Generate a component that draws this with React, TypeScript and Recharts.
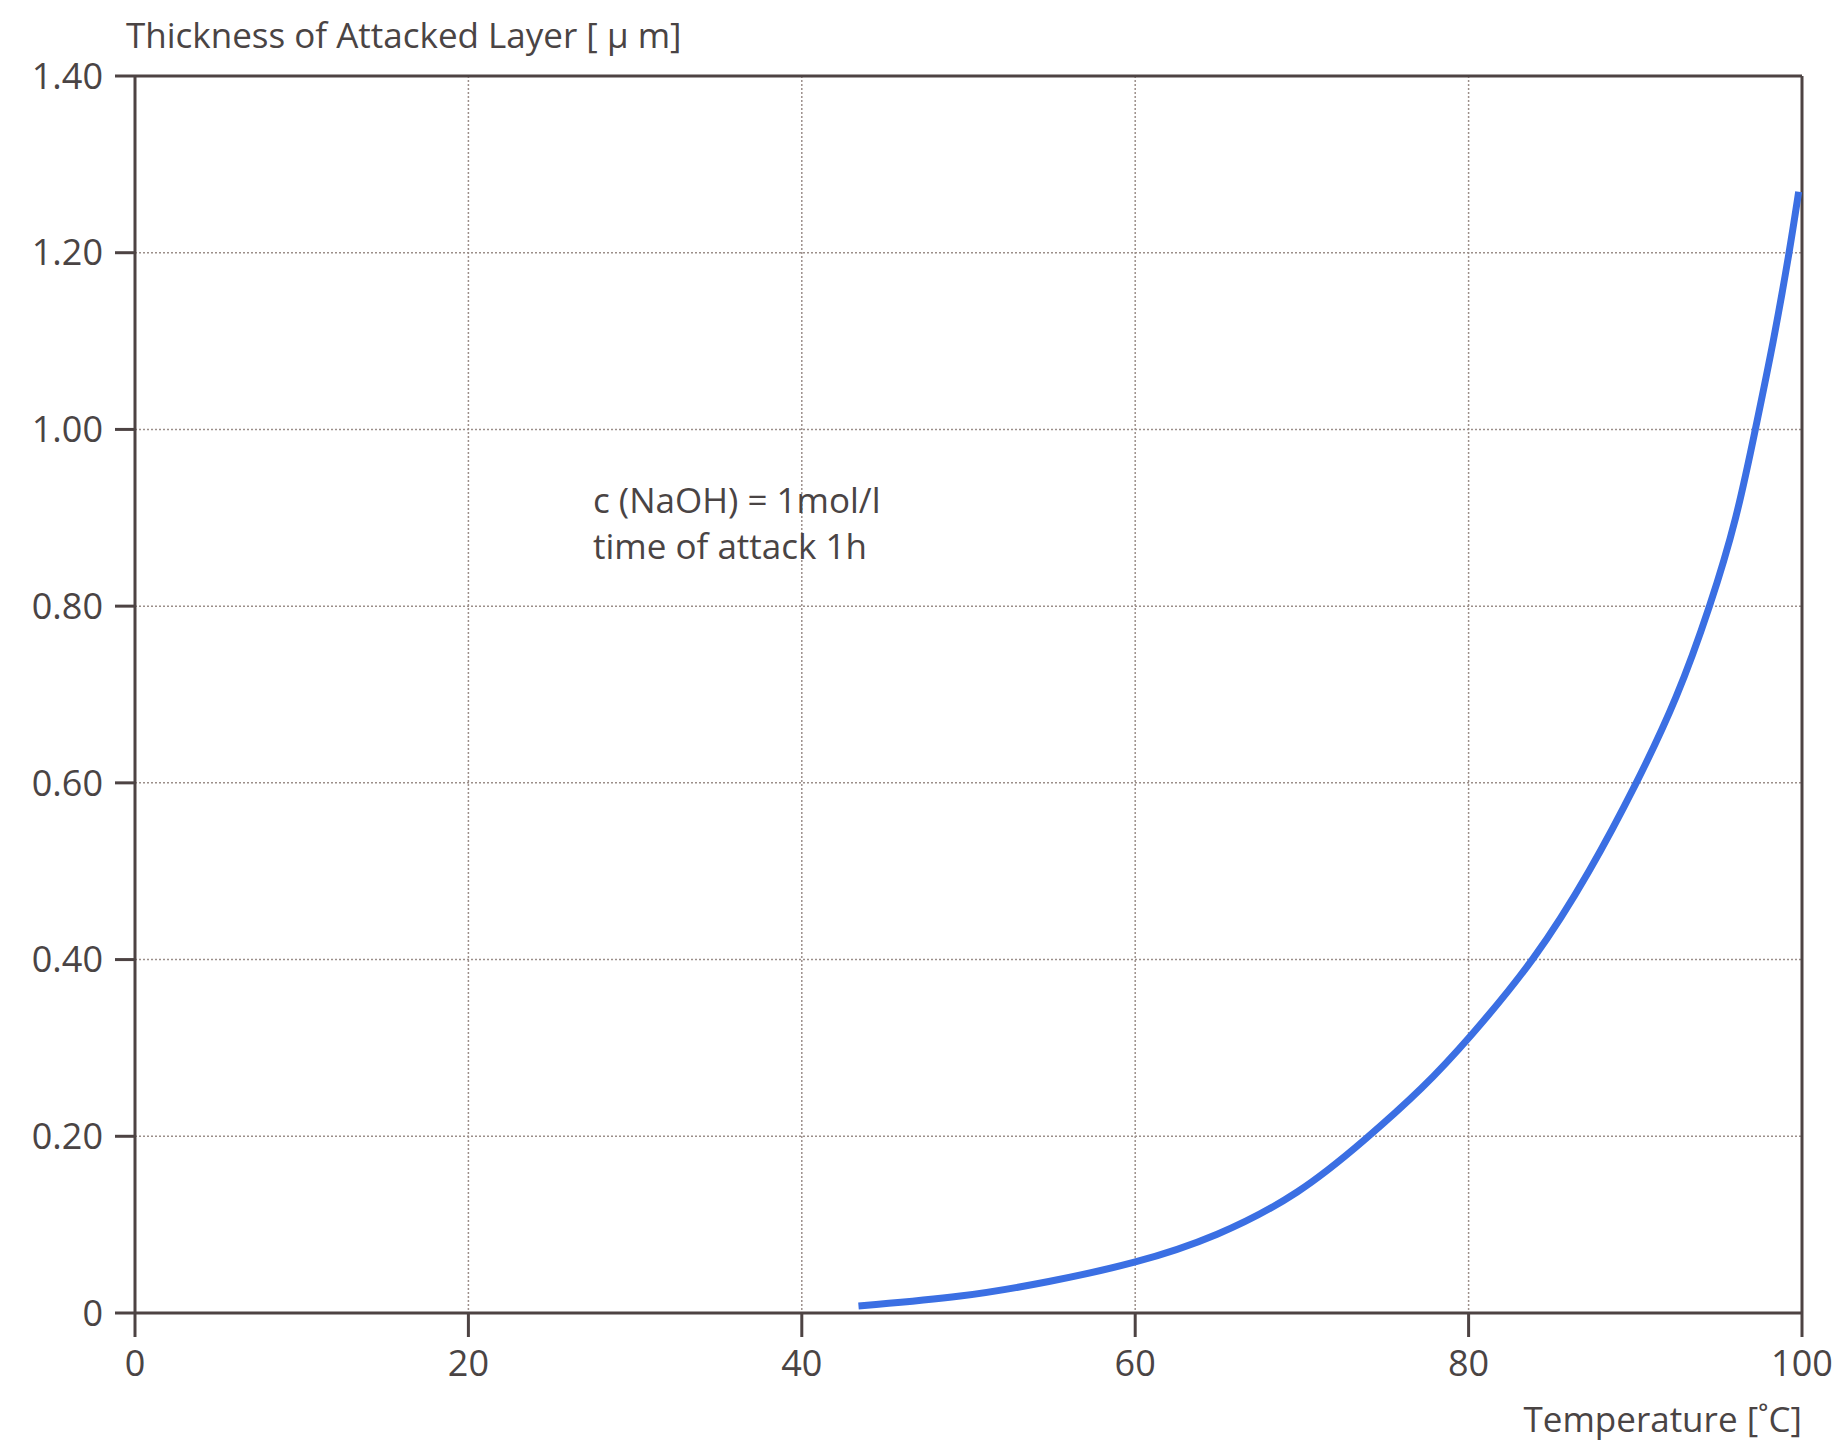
import React from 'react';
import { LineChart, Line, XAxis, YAxis, CartesianGrid, ReferenceLine, Customized } from 'recharts';

const temperature = [43.4, 49.7, 54.8, 60, 64.9, 69.9, 73.8, 77.3, 80, 84, 87.3, 90.1, 92.5, 94.5, 96.1, 97.2, 98.3, 99.24, 99.8];
const thickness = [0.008, 0.018, 0.035, 0.056, 0.086, 0.135, 0.196, 0.255, 0.31, 0.4, 0.5, 0.6, 0.695, 0.8, 0.9, 1.0, 1.1, 1.2, 1.269];
const xTicks = [0, 20, 40, 60, 80, 100];
const yTicks = [0, 0.2, 0.4, 0.6, 0.8, 1.0, 1.2, 1.4];
const yTickLabels = ['0', '0.20', '0.40', '0.60', '0.80', '1.00', '1.20', '1.40'];
const yTitle = 'Thickness of Attacked Layer [ \u03bc m]';
const xTitle = 'Temperature [\u02daC]';
const noteLines = ['c (NaOH) = 1mol/l', 'time of attack 1h'];

const data = temperature.map((t, i) => ({ t, v: thickness[i] }));

const FONT = "'Open Sans', 'Noto Sans', sans-serif";
const TEXT = '#4a4444';
const FRAME = '#4d4343';
const GRID = '#9c8f8a';

const Texts = () => (
  <g fontFamily={FONT} fill={TEXT} fontSize={35}>
    <text x={126} y={48}>{yTitle}</text>
    <text x={1802} y={1432} textAnchor="end">{xTitle}</text>
    <text x={593} y={513}>{noteLines[0]}</text>
    <text x={593} y={559}>{noteLines[1]}</text>
  </g>
);

export default function App() {
  return (
    <div style={{ position: 'absolute', left: 0, top: 0, background: '#fff' }}>
      <LineChart
        width={1841}
        height={1447}
        data={data}
        margin={{ top: 76, right: 39, bottom: 0, left: 0 }}
      >
        <CartesianGrid stroke={GRID} strokeWidth={1.5} strokeDasharray="2 2" />
        <XAxis
          dataKey="t"
          type="number"
          domain={[0, 100]}
          ticks={xTicks}
          height={134}
          tickSize={24}
          tickMargin={13}
          axisLine={{ stroke: FRAME, strokeWidth: 3 }}
          tickLine={{ stroke: FRAME, strokeWidth: 3 }}
          tick={{ fill: TEXT, fontSize: 36, fontFamily: FONT }}
          interval={0}
        />
        <YAxis
          type="number"
          domain={[0, 1.4]}
          ticks={yTicks}
          width={135}
          tickSize={20}
          tickMargin={12}
          axisLine={{ stroke: FRAME, strokeWidth: 3 }}
          tickLine={{ stroke: FRAME, strokeWidth: 3 }}
          tick={{ fill: TEXT, fontSize: 36, fontFamily: FONT }}
          tickFormatter={(v: number) => yTickLabels[yTicks.indexOf(v)] ?? String(v)}
          interval={0}
        />
        <ReferenceLine y={1.4} stroke={FRAME} strokeWidth={3} />
        <ReferenceLine x={100} stroke={FRAME} strokeWidth={3} />
        <Line
          dataKey="v"
          type="basis"
          stroke="#3b6fe3"
          strokeWidth={7}
          dot={false}
          activeDot={false}
          isAnimationActive={false}
        />
        <Customized component={Texts} />
      </LineChart>
    </div>
  );
}
